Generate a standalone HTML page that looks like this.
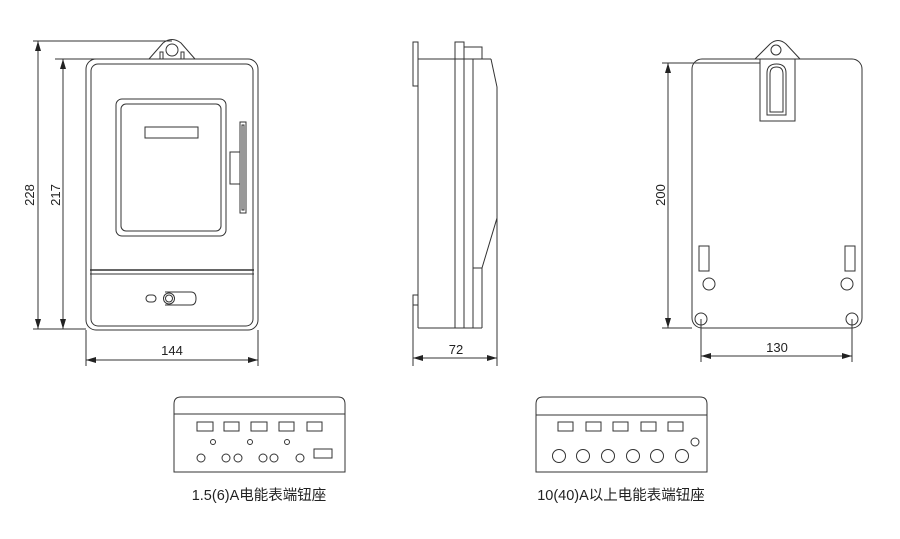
<!DOCTYPE html>
<html><head><meta charset="utf-8"><style>
html,body{margin:0;padding:0;background:#fff;}
svg{display:block;}
text{font-family:"Liberation Sans","Noto Sans CJK SC",sans-serif;fill:#222;}
</style></head><body>
<svg width="900" height="539" viewBox="0 0 900 539" xmlns="http://www.w3.org/2000/svg">
<defs>
<marker id="a" viewBox="0 0 10 6" refX="10" refY="3" markerWidth="10" markerHeight="6" orient="auto-start-reverse" markerUnits="userSpaceOnUse"><path d="M0,0 L10,3 L0,6 z" fill="#222"/></marker>
</defs>
<g fill="none" stroke="#333" stroke-width="1">
<rect x="86" y="59" width="172" height="271" rx="10"/>
<rect x="91" y="64" width="162" height="262" rx="7"/>
<path d="M149,59 L163,43 Q172,36 181,43 L195,59"/>
<circle cx="172" cy="50" r="6"/>
<rect x="160" y="52" width="3" height="7"/>
<rect x="181" y="52" width="3" height="7"/>
<rect x="116" y="99" width="110" height="137" rx="6"/>
<rect x="121" y="104" width="100" height="127" rx="5"/>
<rect x="145" y="127" width="53" height="11"/>
<rect x="240" y="122" width="6" height="91"/>
<rect x="242" y="125" width="2" height="85"/>
<path d="M240,152 L230,152 L230,184 L240,184"/>
<line x1="90" y1="270" x2="254" y2="270" stroke-width="1.5"/>
<line x1="90" y1="274" x2="254" y2="274"/>
<rect x="146" y="295" width="10" height="7" rx="3.5"/>
<path d="M165,292 L191,292 Q196,292 196,298.5 Q196,305 191,305 L165,305"/>
<circle cx="169" cy="298.5" r="5.5"/>
<circle cx="169" cy="298.5" r="3.5"/>
<line x1="33" y1="41" x2="172" y2="41"/>
<line x1="33" y1="329" x2="86" y2="329"/>
<line x1="55" y1="59" x2="100" y2="59"/>
<line x1="38" y1="41" x2="38" y2="329" marker-start="url(#a)" marker-end="url(#a)"/>
<line x1="63" y1="59" x2="63" y2="329" marker-start="url(#a)" marker-end="url(#a)"/>
<line x1="86" y1="330" x2="86" y2="366"/>
<line x1="258" y1="330" x2="258" y2="366"/>
<line x1="86" y1="360" x2="258" y2="360" marker-start="url(#a)" marker-end="url(#a)"/>
<rect x="413" y="42" width="5" height="44"/>
<rect x="413" y="295" width="5" height="10"/>
<line x1="418" y1="59" x2="418" y2="328"/>
<line x1="418" y1="59" x2="491" y2="59"/>
<line x1="418" y1="328" x2="482" y2="328"/>
<rect x="455" y="42" width="9" height="286"/>
<line x1="473" y1="59" x2="473" y2="328"/>
<rect x="464" y="47" width="18" height="12"/>
<path d="M491,59 L497,87 L497,218 L482,268 L482,328"/>
<line x1="473" y1="268" x2="482" y2="268"/>
<line x1="413" y1="305" x2="413" y2="366"/>
<line x1="497" y1="218" x2="497" y2="366"/>
<line x1="413" y1="358" x2="497" y2="358" marker-start="url(#a)" marker-end="url(#a)"/>
<rect x="692" y="59" width="170" height="269" rx="10"/>
<path d="M755,59 L770,44 Q778,37 786,44 L800,59"/>
<circle cx="776" cy="50" r="5"/>
<rect x="760" y="59" width="35" height="62"/>
<path d="M767,115 L767,73 Q767,64 776.5,64 Q786,64 786,73 L786,115 Z"/>
<path d="M770,112 L770,74 Q770,67 776.5,67 Q783,67 783,74 L783,112 Z"/>
<rect x="699" y="246" width="10" height="25"/>
<rect x="845" y="246" width="10" height="25"/>
<circle cx="709" cy="284" r="6"/>
<circle cx="847" cy="284" r="6"/>
<circle cx="701" cy="319" r="6"/>
<circle cx="852" cy="319" r="6"/>
<line x1="662" y1="63" x2="760" y2="63"/>
<line x1="662" y1="328" x2="692" y2="328"/>
<line x1="668" y1="63" x2="668" y2="328" marker-start="url(#a)" marker-end="url(#a)"/>
<line x1="701" y1="319" x2="701" y2="362"/>
<line x1="852" y1="319" x2="852" y2="362"/>
<line x1="701" y1="356" x2="852" y2="356" marker-start="url(#a)" marker-end="url(#a)"/>
<path d="M174,472 L174,404 Q174,397 181,397 L338,397 Q345,397 345,404 L345,472 Z"/>
<line x1="174" y1="414" x2="345" y2="414"/>
<rect x="197" y="422" width="16" height="9"/>
<rect x="224" y="422" width="15" height="9"/>
<rect x="251" y="422" width="16" height="9"/>
<rect x="279" y="422" width="15" height="9"/>
<rect x="307" y="422" width="15" height="9"/>
<circle cx="213" cy="442" r="2.5"/>
<circle cx="250" cy="442" r="2.5"/>
<circle cx="287" cy="442" r="2.5"/>
<circle cx="201" cy="458" r="4"/>
<circle cx="226" cy="458" r="4"/>
<circle cx="238" cy="458" r="4"/>
<circle cx="263" cy="458" r="4"/>
<circle cx="274" cy="458" r="4"/>
<circle cx="300" cy="458" r="4"/>
<rect x="314" y="449" width="18" height="9"/>
<path d="M536,472 L536,404 Q536,397 543,397 L700,397 Q707,397 707,404 L707,472 Z"/>
<line x1="536" y1="415" x2="707" y2="415"/>
<rect x="558" y="422" width="15" height="9"/>
<rect x="586" y="422" width="15" height="9"/>
<rect x="613" y="422" width="15" height="9"/>
<rect x="641" y="422" width="15" height="9"/>
<rect x="668" y="422" width="15" height="9"/>
<circle cx="695" cy="442" r="4"/>
<circle cx="559" cy="456" r="6.5"/>
<circle cx="583" cy="456" r="6.5"/>
<circle cx="608" cy="456" r="6.5"/>
<circle cx="633" cy="456" r="6.5"/>
<circle cx="657" cy="456" r="6.5"/>
<circle cx="682" cy="456" r="6.5"/>
</g>
<g font-size="13">
<text x="30" y="195" text-anchor="middle" transform="rotate(-90 30 195)" dy="4">228</text>
<text x="56" y="195" text-anchor="middle" transform="rotate(-90 56 195)" dy="4">217</text>
<text x="172" y="355" text-anchor="middle">144</text>
<text x="456" y="354" text-anchor="middle">72</text>
<text x="661" y="195" text-anchor="middle" transform="rotate(-90 661 195)" dy="4">200</text>
<text x="777" y="352" text-anchor="middle">130</text>
</g>
<g font-size="14.5">
<text x="259" y="500" text-anchor="middle">1.5(6)A电能表端钮座</text>
<text x="621" y="500" text-anchor="middle">10(40)A以上电能表端钮座</text>
</g>
</svg>
</body></html>
